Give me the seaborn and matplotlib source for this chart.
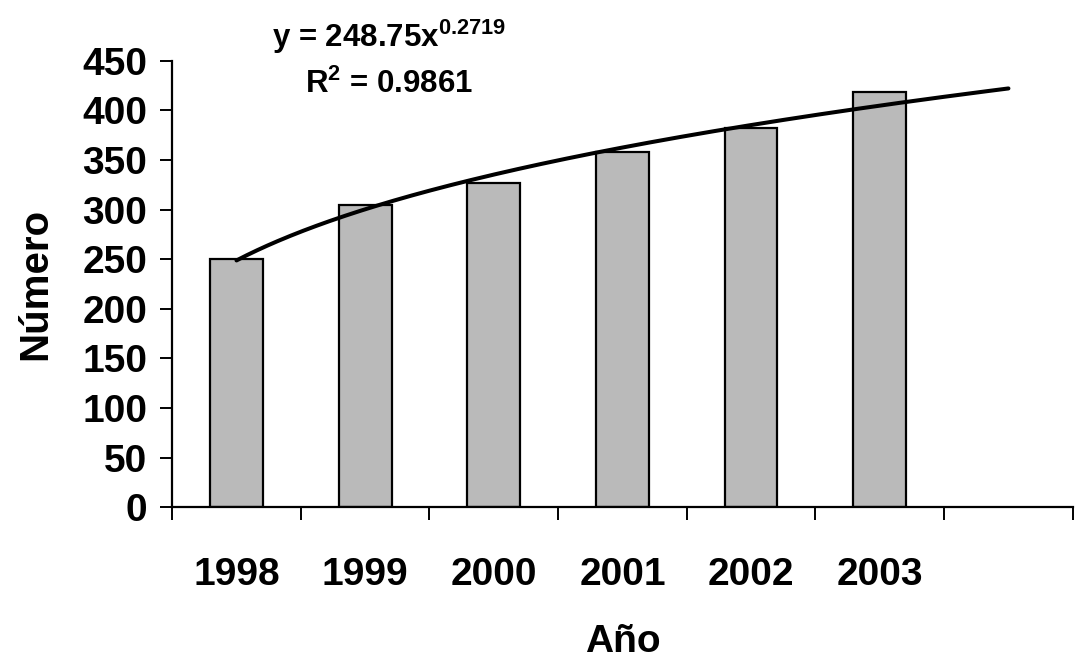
import numpy as np
import pandas as pd
import matplotlib
matplotlib.use("Agg")
import matplotlib.pyplot as plt
import seaborn as sns

# Yearly counts
years = ["1998", "1999", "2000", "2001", "2002", "2003"]
counts = [250, 305, 327, 358, 382, 419]

# Power trendline y = a * x^b (x = 1, 2, ... by period), extended one period forward
trend_a = 248.75
trend_b = 0.2719
trend_r2 = 0.9861
forecast_periods = 1

y_ticks = [0, 50, 100, 150, 200, 250, 300, 350, 400, 450]

sns.set_theme(style="white")
plt.rcParams["font.family"] = ["Liberation Sans", "DejaVu Sans"]
plt.rcParams["mathtext.fontset"] = "custom"
plt.rcParams["mathtext.rm"] = "Liberation Sans:bold"
plt.rcParams["mathtext.it"] = "Liberation Sans:bold"
plt.rcParams["mathtext.bf"] = "Liberation Sans:bold"

df = pd.DataFrame({"Año": years, "Número": counts})

fig = plt.figure(figsize=(10.76, 6.62), dpi=100)
ax = fig.add_axes([0.160, 0.234, 0.837, 0.674])

sns.barplot(data=df, x="Año", y="Número", order=years, color="#bababa",
            saturation=1, width=0.41, edgecolor="black", linewidth=1.6, ax=ax)

n_slots = len(years) + forecast_periods
periods = np.linspace(1, n_slots, 300)
ax.plot(periods - 1, trend_a * periods ** trend_b, color="black",
        linewidth=2.9, solid_capstyle="round", zorder=5)

ax.set_xlim(-0.5, n_slots - 0.5)
ax.set_ylim(0, 450)
ax.set_yticks(y_ticks)
ax.set_yticklabels([str(v) for v in y_ticks])

# Category separators as tick marks, year labels centred under bars
ax.set_xticks(np.arange(-0.5, n_slots, 1.0))
ax.set_xticklabels([])
ax.set_xticks(np.arange(len(years)), minor=True)
ax.set_xticklabels(years, minor=True)
ax.tick_params(axis="x", which="major", direction="out", length=9, width=1.4,
               color="black", bottom=True)
ax.tick_params(axis="x", which="minor", length=0, pad=36, labelsize=28)
ax.tick_params(axis="y", direction="out", length=9, width=1.4, color="black",
               left=True, pad=9, labelsize=28)
for lbl in ax.get_xticklabels(minor=True) + ax.get_yticklabels():
    lbl.set_fontweight("bold")
    lbl.set_color("black")

for side in ["top", "right"]:
    ax.spines[side].set_visible(False)
for side in ["left", "bottom"]:
    ax.spines[side].set_color("black")
    ax.spines[side].set_linewidth(1.6)

ax.set_xlabel("Año", fontsize=28, fontweight="bold", labelpad=22, color="black")
ax.set_ylabel("Número", fontsize=29, fontweight="bold", labelpad=20, color="black")

fig.text(0.362, 0.929, r"y = %.2fx$^{%.4f}$" % (trend_a, trend_b), fontsize=22.5,
         fontweight="bold", ha="center", va="baseline", color="black")
fig.text(0.362, 0.859, r"R$^{2}$ = %.4f" % trend_r2, fontsize=22.5,
         fontweight="bold", ha="center", va="baseline", color="black")

fig.savefig("out.png", dpi=100, facecolor="white")
